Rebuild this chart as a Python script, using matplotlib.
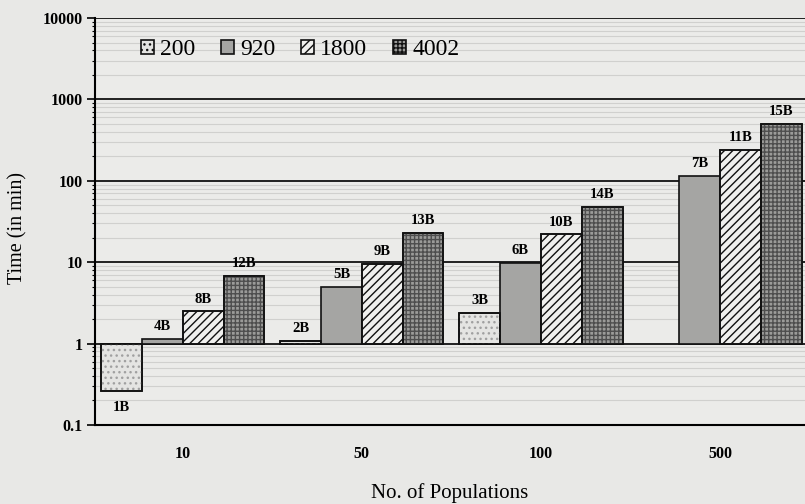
import numpy as np
import matplotlib
matplotlib.use("Agg")
import matplotlib.pyplot as plt
from matplotlib.patches import Patch

# Run time (minutes) per population size, grouped by number of populations
populations = ["10", "50", "100", "500"]
series_names = ["200", "920", "1800", "4002"]
t_200 = [0.26, 1.08, 2.4, np.nan]
t_920 = [1.14, 5.0, 9.8, 115]
t_1800 = [2.5, 9.6, 22, 240]
t_4002 = [6.8, 23, 48, 500]
labels_200 = ["1B", "2B", "3B", ""]
labels_920 = ["4B", "5B", "6B", "7B"]
labels_1800 = ["8B", "9B", "10B", "11B"]
labels_4002 = ["12B", "13B", "14B", "15B"]
y_ticks = [0.1, 1, 10, 100, 1000, 10000]
y_ticklabels = ["0.1", "1", "10", "100", "1000", "10000"]

values = [t_200, t_920, t_1800, t_4002]
bar_labels = [labels_200, labels_920, labels_1800, labels_4002]

# (face colour, hatch, hatch colour)
styles = [
    ("#e4e4e2", "...", "#a0a0a0"),
    ("#a5a5a3", None, None),
    ("#f0f0ee", "////", "#111111"),
    ("#9b9b99", "++++", "#4e4e4e"),
]

serif = ["Liberation Serif", "DejaVu Serif"]
plt.rcParams["font.family"] = serif
plt.rcParams["hatch.linewidth"] = 1.0

fig = plt.figure(figsize=(8.05, 5.04), dpi=100, facecolor="#e8e8e6")
ax = fig.add_axes([95 / 805, 79 / 504, 710 / 805, 407 / 504])
ax.set_facecolor("#ebebe9")

ax.set_yscale("log")
ax.set_ylim(0.1, 10000)
ax.set_xlim(-0.49, 3.475)

# background grid: dark decade lines, faint lines in between
for dec in [0.1, 1, 10, 100, 1000]:
    for m in range(2, 10):
        ax.axhline(dec * m, color="#d0d0ce", lw=0.8, zorder=0)
for y in y_ticks:
    ax.axhline(y, color="#111111", lw=1.3, zorder=0.5)

x = np.arange(len(populations))
width = 0.228
offsets = (np.arange(4) - 1.5) * width
base = 1.0

for i, (vals, labs, (face, hatch, hcol)) in enumerate(zip(values, bar_labels, styles)):
    v = np.array(vals, dtype=float)
    pos = x + offsets[i]
    ok = ~np.isnan(v)
    ax.bar(pos[ok], v[ok] - base, bottom=base, width=width, color=face,
           edgecolor="#111111", linewidth=1.2, zorder=2)
    if hatch:
        ax.bar(pos[ok], v[ok] - base, bottom=base, width=width, fill=False,
               hatch=hatch, edgecolor=hcol, linewidth=0, zorder=3)
        ax.bar(pos[ok], v[ok] - base, bottom=base, width=width, fill=False,
               edgecolor="#111111", linewidth=1.2, zorder=4)
    for p, val, lab in zip(pos[ok], v[ok], np.array(labs)[ok]):
        if val >= base:
            ax.annotate(lab, (p, val), xytext=(0, 4), textcoords="offset points",
                        ha="center", va="bottom", fontsize=10.5, fontweight="bold")
        else:
            ax.annotate(lab, (p, val), xytext=(0, -7), textcoords="offset points",
                        ha="center", va="top", fontsize=10.5, fontweight="bold")

ax.set_yticks(y_ticks)
ax.set_yticklabels(y_ticklabels, fontsize=11.5, fontweight="bold")
ax.tick_params(axis="y", which="major", direction="out", length=6, width=1.2, pad=3)
ax.tick_params(axis="y", which="minor", direction="out", length=2.5, width=0.8,
               labelleft=False)
ax.set_xticks(x)
ax.set_xticklabels(populations, fontsize=11.5, fontweight="bold")
ax.tick_params(axis="x", length=0, pad=15)

for side in ["top", "right"]:
    ax.spines[side].set_visible(False)
ax.spines["left"].set_linewidth(1.5)
ax.spines["bottom"].set_linewidth(1.5)
ax.spines["left"].set_zorder(5)

ax.set_xlabel("No. of Populations", fontsize=15, labelpad=15)
ax.set_ylabel("Time (in min)", fontsize=14.5, labelpad=8)
ax.yaxis.set_label_coords(-0.095, 0.485)

handles = []
for name, (face, hatch, hcol) in zip(series_names, styles):
    handles.append(Patch(facecolor=face, edgecolor="#111111", hatch=hatch,
                         linewidth=1.2, label=name))
leg = ax.legend(handles=handles, loc="upper left", bbox_to_anchor=(0.035, 1.0),
                ncol=4, frameon=False, fontsize=17, handlelength=0.55,
                handleheight=0.55, handletextpad=0.25, columnspacing=1.1)

fig.savefig("out.png", dpi=100, facecolor=fig.get_facecolor())
